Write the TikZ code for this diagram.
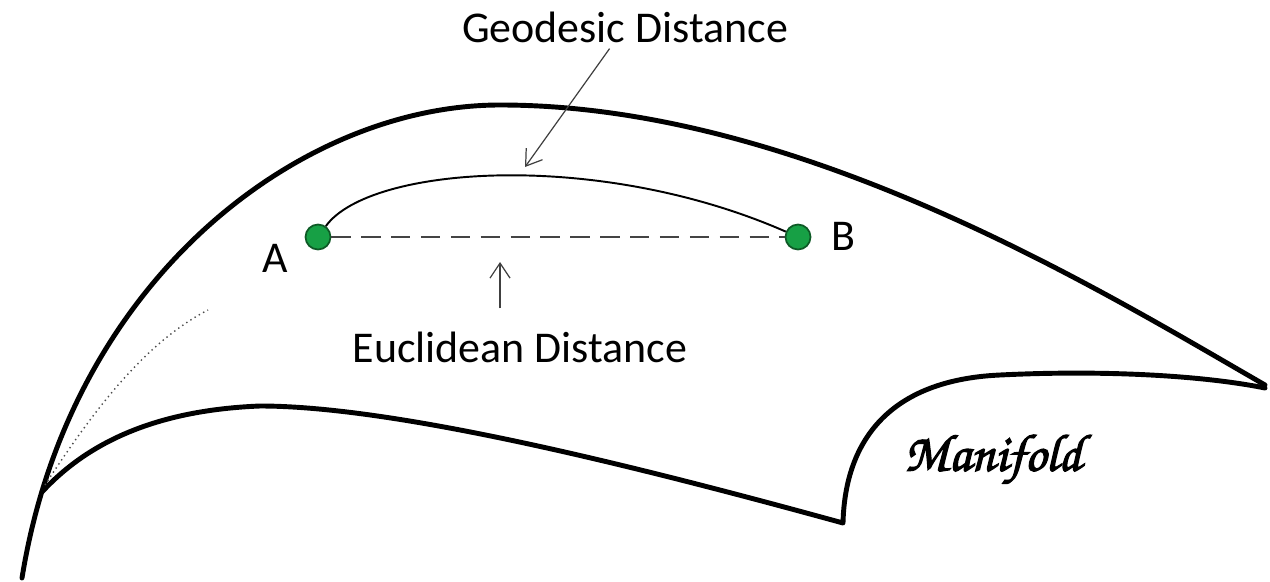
\documentclass[tikz,border=0pt]{standalone}
\usepackage[T1]{fontenc}
\usepackage{fontspec}
\usepackage{tikz}
\usetikzlibrary{arrows.meta,positioning}
\setmainfont{Carlito}
\definecolor{dotgreen} {HTML}{17A045}
\definecolor{dotedge}  {HTML}{0E5A26}
\definecolor{dashgrey} {HTML}{444444}
\renewcommand{\small}{\fontsize{25}{30}\selectfont}
\newcommand{\chancery}{\fontencoding{T1}\fontfamily{pzc}\fontseries{mb}\fontshape{it}\selectfont}
\newcommand{\heavy}[1]{\special{pdf:literal direct 2 Tr 0.7 w}#1\special{pdf:literal direct 0 Tr}}

\begin{document}
\begin{tikzpicture}[x=0.02cm, y=-0.02cm, font=\small,
    rim/.style={line width=2.8pt, line cap=round, line join=round},
    pt/.style={circle, draw=dotedge, line width=1pt, fill=dotgreen,
               minimum size=0.5cm, inner sep=0pt},
    pointer/.style={-{Straight Barb[length=3mm,width=4mm]},
                    line width=0.7pt, draw=black!75}]
  \useasboundingbox (0,0) rectangle (1270,581);
  % the sheet
  \draw[rim] (22,578) .. controls (70,280) and (300,105) .. (500,105)
                      .. controls (800,105) and (1100,290) .. (1265,385);
  \draw[rim] (42,492) .. controls (90,440) and (160,410) .. (260,406)
                      .. controls (400,406) and (650,470) .. (843,523)
                      .. controls (845,440) and (890,380) .. (1000,375)
                      .. controls (1100,370) and (1200,375) .. (1265,388);
  \draw[dotted, line width=0.8pt, black!70]
        (45,485) .. controls (100,400) and (150,340) .. (208,310);
  % points and paths
  \node[pt] (A) at (318,237) {};
  \node[pt] (B) at (798,237) {};
  \node (alab) at (275,258) {A};
  \node (blab) at (843,236) {B};
  \draw[dash pattern=on 11pt off 6pt, line width=1.6pt, dashgrey]
        (A) -- (B);
  \draw[line width=1.1pt] (A) .. controls (370,165) and (600,150) .. (B);
  % labels
  \node (geolab) at (625,27) {Geodesic Distance};
  \node (euclab) at (520,347) {Euclidean Distance};
  \node[font={\fontsize{30}{34}\chancery}] (manlab) at (993,460) {\heavy{Manifold}};
  \coordinate (geotip) at (525,167);
  \coordinate (euctip) at (500,262);
  \draw[pointer] (geolab) -- (geotip);
  \draw[pointer, shorten <=0.34cm] (euclab.north -| euctip) -- (euctip);
\end{tikzpicture}
\end{document}
